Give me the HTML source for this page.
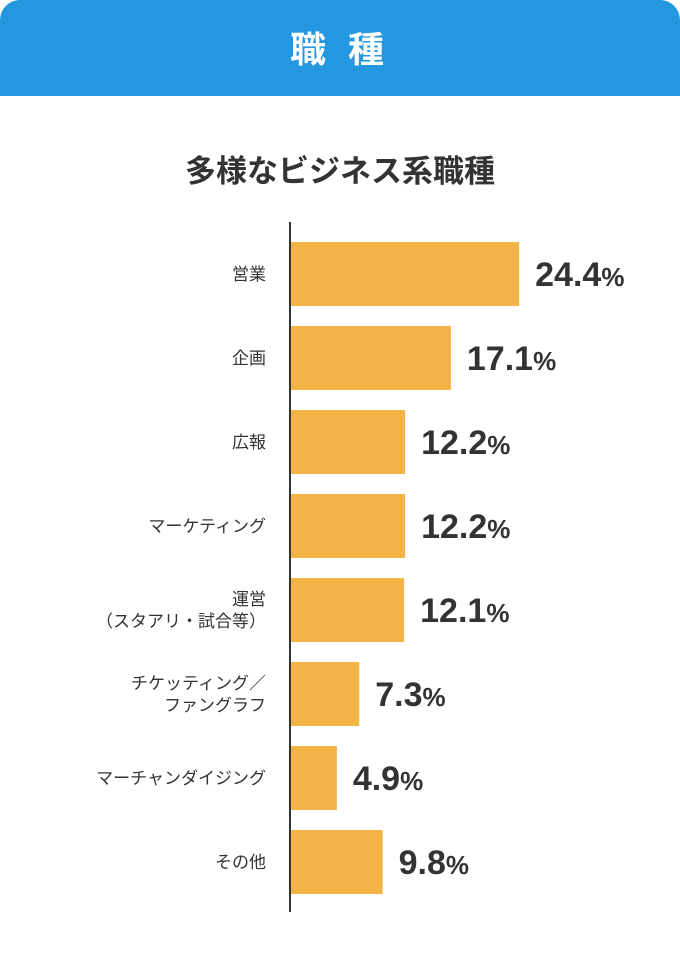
<!DOCTYPE html>
<html><head><meta charset="utf-8"><style>
body{margin:0;width:680px;height:960px;background:#fff;font-family:"Liberation Sans","Noto Sans CJK JP",sans-serif;overflow:hidden;position:relative}
#hdr{position:absolute;left:0;top:0;width:680px;height:96px;background:#2397E0;border-radius:20px 20px 0 0;color:#fff;font-weight:bold;font-size:36px;text-align:center;line-height:100px;letter-spacing:6px}
#sub{position:absolute;left:0;top:146px;width:680px;text-align:center;font-weight:bold;font-size:31px;color:#333}
svg{position:absolute;left:0;top:0}
</style></head><body>
<div id="hdr">職 種</div>
<div id="sub">多様なビジネス系職種</div>
<svg id="chart" width="680" height="960"></svg>
<script>
const categories=[["営業"],["企画"],["広報"],["マーケティング"],["運営","（スタアリ・試合等）"],["チケッティング／","ファングラフ"],["マーチャンダイジング"],["その他"]];
const values=[24.4,17.1,12.2,12.2,12.1,7.3,4.9,9.8];
const NS="http://www.w3.org/2000/svg";
const svg=document.getElementById('chart');
const x0=291,scale=9.35,y0=242,pitch=84,bh=64;
function xs(v){return v*scale;}
function ys(i){return y0+i*pitch;}
function mk(t,a){const e=document.createElementNS(NS,t);for(const k in a)e.setAttribute(k,a[k]);svg.appendChild(e);return e;}
values.forEach((v,i)=>{
  const r=mk('rect',{x:x0,y:ys(i),width:xs(v),height:bh,fill:'#F2B347'});
  
  
  const t=mk('text',{x:x0+xs(v)+16,y:ys(i)+bh/2+12,'font-size':34,'font-weight':'bold',fill:'#333'});
  
  
  t.innerHTML=v.toFixed(1)+'<tspan font-size="26">%</tspan>';
  const lines=categories[i];
  lines.forEach((l,j)=>{
    const c=mk('text',{x:266,y:ys(i)+bh/2+6+(j-(lines.length-1)/2)*22,'font-size':17,fill:'#333','text-anchor':'end'});
    
    
    c.textContent=l;
  });
});
const ax=mk('line',{x1:290,y1:222,x2:290,y2:912,stroke:'#333','stroke-width':2});


</script>
</body></html>
